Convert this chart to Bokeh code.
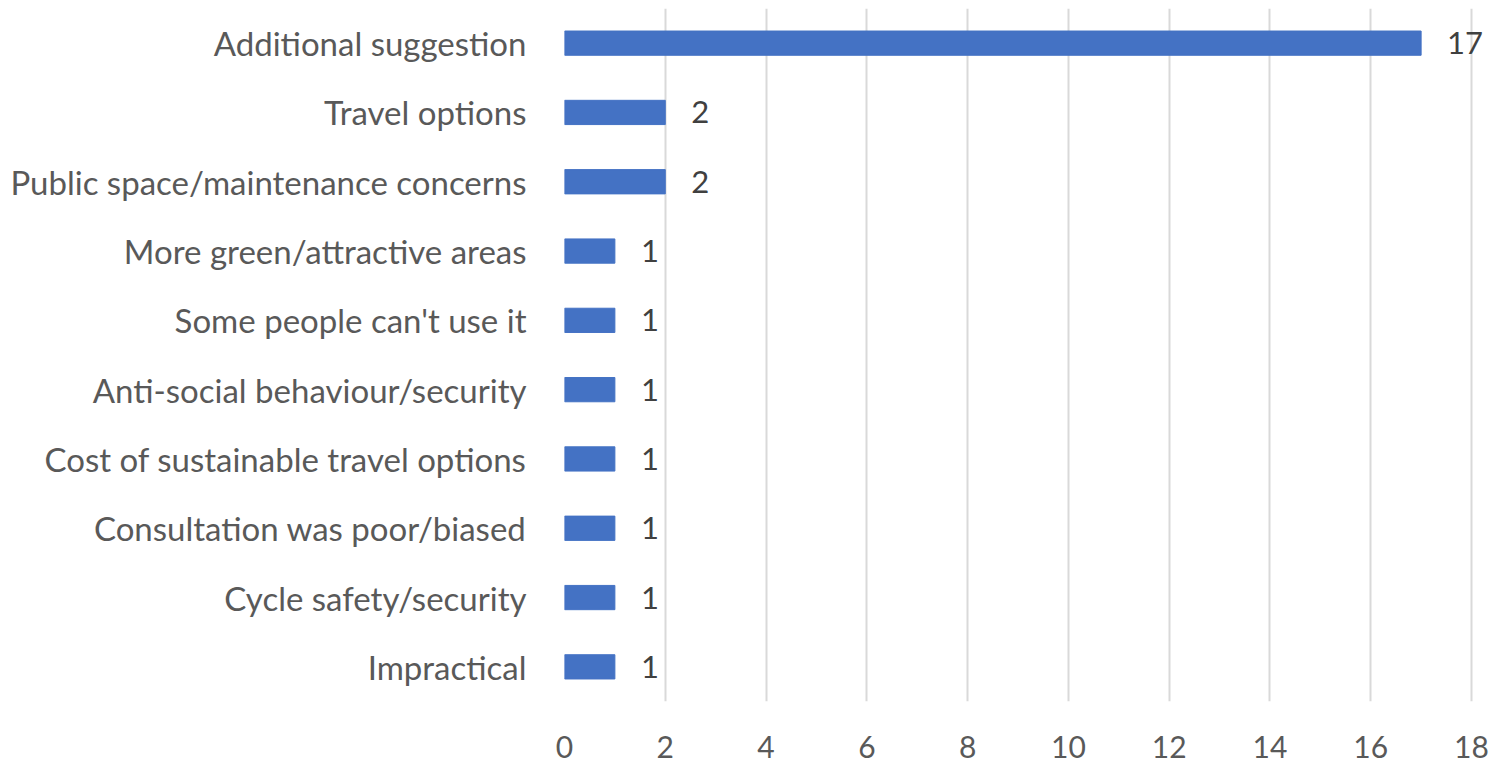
from bokeh.plotting import figure
from bokeh.models import ColumnDataSource, FactorRange, LabelSet, FixedTicker, Range1d
from bokeh.core.properties import value
from bokeh.embed import file_html
from bokeh.resources import INLINE

categories = [
    "Additional suggestion",
    "Travel options",
    "Public space/maintenance concerns",
    "More green/attractive areas",
    "Some people can't use it",
    "Anti-social behaviour/security",
    "Cost of sustainable travel options",
    "Consultation was poor/biased",
    "Cycle safety/security",
    "Impractical",
]
counts = [17, 2, 2, 1, 1, 1, 1, 1, 1, 1]
x_ticks = [0, 2, 4, 6, 8, 10, 12, 14, 16, 18]

src = ColumnDataSource(dict(cat=categories, val=counts,
                            lab=[str(v) for v in counts]))

p = figure(width=1493, height=768, output_backend="svg", toolbar_location=None,
           y_range=FactorRange(factors=list(reversed(categories))),
           x_range=Range1d(0, 18.357),
           min_border_left=564, min_border_right=4, min_border_top=8,
           min_border_bottom=67)

p.hbar(y="cat", right="val", left=0, height=0.35, source=src,
       fill_color="#4472C4", line_color="#4472C4")

FONT = "Lato"

p.yaxis.axis_line_color = None
p.yaxis.major_tick_line_color = None
p.yaxis.minor_tick_line_color = None
p.yaxis.major_label_text_font = FONT
p.yaxis.major_label_text_font_size = "33px"
p.yaxis.major_label_text_color = "#595959"
p.yaxis.major_label_standoff = 32

p.xaxis.ticker = FixedTicker(ticks=x_ticks)
p.xaxis.axis_line_color = None
p.xaxis.major_tick_line_color = None
p.xaxis.minor_tick_line_color = None
p.xaxis.major_label_text_font = FONT
p.xaxis.major_label_text_font_size = "30px"
p.xaxis.major_label_text_color = "#595959"
p.xaxis.major_label_standoff = 28

p.xgrid.ticker = FixedTicker(ticks=x_ticks)
p.xgrid.grid_line_color = "#d9d9d9"
p.xgrid.grid_line_width = 2
p.ygrid.grid_line_color = None
p.outline_line_color = None

val_labels = LabelSet(x="val", y="cat", text="lab", source=src,
                      x_offset=26, text_align="left", text_baseline="middle",
                      text_font=value(FONT), text_font_size="31px",
                      text_color="#404040")
p.add_layout(val_labels)

open("out.html", "w").write(file_html(p, INLINE))
